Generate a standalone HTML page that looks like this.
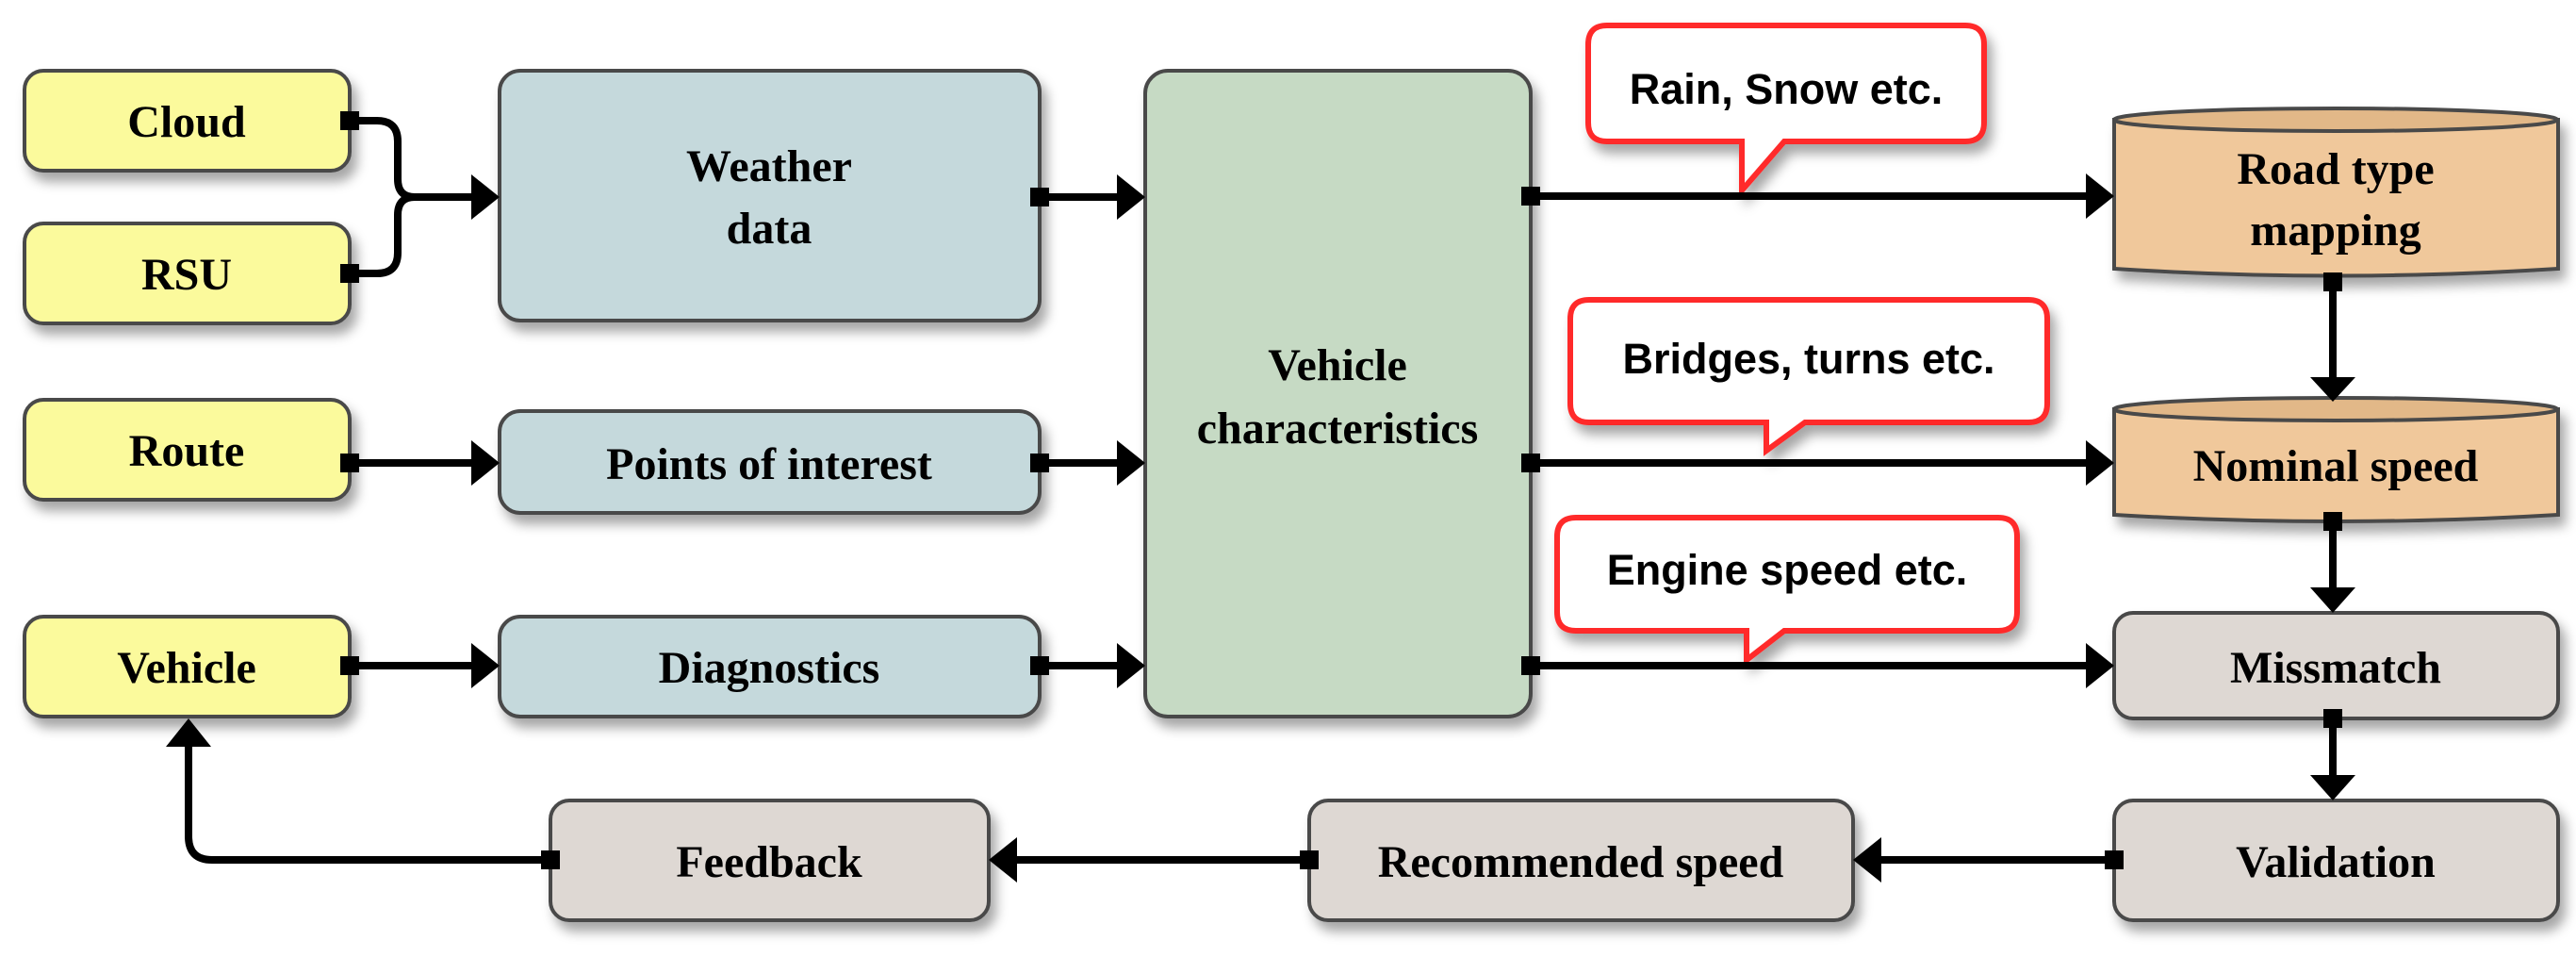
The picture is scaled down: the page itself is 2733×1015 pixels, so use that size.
<!DOCTYPE html>
<html><head><meta charset="utf-8"><style>
html,body{margin:0;padding:0;background:#fff;}
svg{display:block;}
.t{font-family:"Liberation Serif",serif;font-weight:bold;font-size:48px;fill:#000;text-anchor:middle;}
.c{font-family:"Liberation Sans",sans-serif;font-weight:bold;font-size:45px;fill:#000;text-anchor:middle;}
.box{stroke:#4a4a4a;stroke-width:4;filter:url(#sh);}
.ln{stroke:#000;stroke-width:8;fill:none;}
</style></head><body>
<svg width="2733" height="1015" viewBox="0 0 2733 1015" xmlns="http://www.w3.org/2000/svg">
<defs>
<filter id="sh" x="-10%" y="-10%" width="130%" height="140%">
<feDropShadow dx="6" dy="10" stdDeviation="6" flood-color="#000" flood-opacity="0.35"/>
</filter>
</defs>

<rect class="box" x="26" y="75" width="345" height="106" rx="20" fill="#fbfa9c"/>
<rect class="box" x="26" y="237" width="345" height="106" rx="20" fill="#fbfa9c"/>
<rect class="box" x="26" y="424" width="345" height="106" rx="20" fill="#fbfa9c"/>
<rect class="box" x="26" y="654" width="345" height="106" rx="20" fill="#fbfa9c"/>

<rect class="box" x="530" y="75" width="573" height="265" rx="22" fill="#c5d9dc"/>
<rect class="box" x="530" y="436" width="573" height="108" rx="22" fill="#c5d9dc"/>
<rect class="box" x="530" y="654" width="573" height="106" rx="22" fill="#c5d9dc"/>

<rect class="box" x="1215" y="75" width="409" height="685" rx="24" fill="#c6dac4"/>

<rect class="box" x="584" y="849" width="465" height="127" rx="20" fill="#ded8d3"/>
<rect class="box" x="1389" y="849" width="577" height="127" rx="20" fill="#ded8d3"/>
<rect class="box" x="2243" y="849" width="471" height="127" rx="20" fill="#ded8d3"/>
<rect class="box" x="2243" y="650" width="471" height="112" rx="20" fill="#ded8d3"/>

<g filter="url(#sh)">
<path d="M2243 127 L2243 285 Q2478 300 2714 285 L2714 127 Z" fill="#f0c89b" stroke="#4a4a4a" stroke-width="4"/>
<ellipse cx="2478" cy="127" rx="235" ry="12" fill="#e2b888" stroke="#4a4a4a" stroke-width="4"/>
<path d="M2243 434 L2243 546 Q2478 560 2714 546 L2714 434 Z" fill="#f0c89b" stroke="#4a4a4a" stroke-width="4"/>
<ellipse cx="2478" cy="434" rx="235" ry="12" fill="#e2b888" stroke="#4a4a4a" stroke-width="4"/>
</g>

<g filter="url(#sh)" fill="#fff" stroke="#ff2a2a" stroke-width="6">
<path d="M1705 27 H2085 Q2105 27 2105 47 V130 Q2105 150 2085 150 H1893 L1848 202 L1848 150 H1705 Q1685 150 1685 130 V47 Q1685 27 1705 27 Z"/>
<path d="M1686 318 H2152 Q2172 318 2172 338 V428 Q2172 448 2152 448 H1915 L1874 478 L1874 448 H1686 Q1666 448 1666 428 V338 Q1666 318 1686 318 Z"/>
<path d="M1672 549 H2120 Q2140 549 2140 569 V649 Q2140 669 2120 669 H1893 L1853 700 L1853 669 H1672 Q1652 669 1652 649 V569 Q1652 549 1672 549 Z"/>
</g>

<g class="ln">
<path d="M371 128 H400 Q422 128 422 150 V190 Q422 209 440 209 H510"/>
<path d="M371 290 H400 Q422 290 422 268 V228 Q422 209 440 209"/>
<path d="M371 491 H510"/>
<path d="M371 706 H510"/>
<path d="M1103 209 H1195"/>
<path d="M1103 491 H1195"/>
<path d="M1103 706 H1195"/>
<path d="M1624 208 H2222"/>
<path d="M1624 491 H2222"/>
<path d="M1624 706 H2222"/>
<path d="M2475 289 V405"/>
<path d="M2475 553 V625"/>
<path d="M2475 762 V825"/>
<path d="M2243 912 H1990"/>
<path d="M1389 912 H1070"/>
<path d="M584 912 H225 Q200 912 200 887 V790"/>
</g>
<g fill="#000">
<rect x="361" y="118" width="20" height="20"/><rect x="361" y="280" width="20" height="20"/>
<rect x="361" y="481" width="20" height="20"/><rect x="361" y="696" width="20" height="20"/>
<rect x="1093" y="199" width="20" height="20"/><rect x="1093" y="481" width="20" height="20"/><rect x="1093" y="696" width="20" height="20"/>
<rect x="1614" y="198" width="20" height="20"/><rect x="1614" y="481" width="20" height="20"/><rect x="1614" y="696" width="20" height="20"/>
<rect x="2465" y="289" width="20" height="20"/><rect x="2465" y="543" width="20" height="20"/><rect x="2465" y="752" width="20" height="20"/>
<rect x="2233" y="902" width="20" height="20"/><rect x="1379" y="902" width="20" height="20"/><rect x="574" y="902" width="20" height="20"/>
<path d="M500 185 L530 209 L500 233 Z"/>
<path d="M500 467 L530 491 L500 515 Z"/>
<path d="M500 682 L530 706 L500 730 Z"/>
<path d="M1185 185 L1215 209 L1185 233 Z"/>
<path d="M1185 467 L1215 491 L1185 515 Z"/>
<path d="M1185 682 L1215 706 L1185 730 Z"/>
<path d="M2213 184 L2243 208 L2213 232 Z"/>
<path d="M2213 467 L2243 491 L2213 515 Z"/>
<path d="M2213 682 L2243 706 L2213 730 Z"/>
<path d="M2451 400 L2475 426 L2499 400 Z"/>
<path d="M2451 623 L2475 650 L2499 623 Z"/>
<path d="M2451 822 L2475 849 L2499 822 Z"/>
<path d="M1996 888 L1966 912 L1996 936 Z"/>
<path d="M1079 888 L1049 912 L1079 936 Z"/>
<path d="M176 792 L200 762 L224 792 Z"/>
</g>

<text class="t" x="198" y="145">Cloud</text>
<text class="t" x="198" y="307">RSU</text>
<text class="t" x="198" y="494">Route</text>
<text class="t" x="198" y="724">Vehicle</text>
<text class="t" x="816" y="192">Weather</text>
<text class="t" x="816" y="258">data</text>
<text class="t" x="816" y="508">Points of interest</text>
<text class="t" x="816" y="724">Diagnostics</text>
<text class="t" x="1419" y="403">Vehicle</text>
<text class="t" x="1419" y="470">characteristics</text>
<text class="t" x="816" y="930">Feedback</text>
<text class="t" x="1677" y="930">Recommended speed</text>
<text class="t" x="2478" y="930">Validation</text>
<text class="t" x="2478" y="724">Missmatch</text>
<text class="t" x="2478" y="510">Nominal speed</text>
<text class="t" x="2478" y="195">Road type</text>
<text class="t" x="2478" y="260">mapping</text>
<text class="c" x="1895" y="110">Rain, Snow etc.</text>
<text class="c" x="1919" y="396">Bridges, turns etc.</text>
<text class="c" x="1896" y="620">Engine speed etc.</text>
</svg>
</body></html>
